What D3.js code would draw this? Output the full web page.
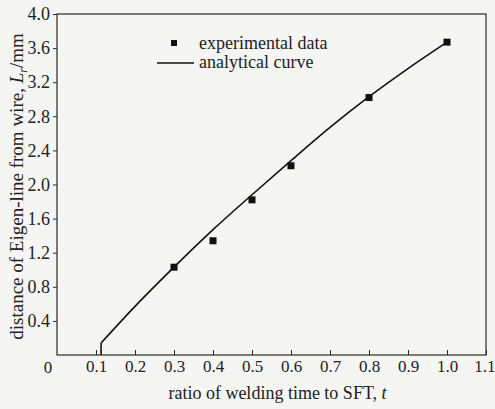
<!DOCTYPE html>
<html>
<head>
<meta charset="utf-8">
<script src="https://cdn.jsdelivr.net/npm/d3@7"></script>
<style>
  body { margin: 0; background: #f5f5f4; }
  svg { display: block; }
  svg text { font-family: "Liberation Serif", "DejaVu Serif", serif; fill: #222; }
  .axis path, .axis line { stroke: #2a2a2a; }
  .axis text { font-size: 18px; }
  .xaxis text { font-size: 17px; }
</style>
</head>
<body>
<div id="chart"></div>
<script>
const width = 495
const height = 409
const margin = {top: 14, right: 9, bottom: 54, left: 57}
const netWidth = width - margin.left - margin.right
const netHeight = height - margin.top - margin.bottom

// Data
const expT = [0.3, 0.4, 0.5, 0.6, 0.8, 1.0]
const expL = [1.03, 1.34, 1.82, 2.22, 3.02, 3.67]
const curveT = [0.113, 0.2, 0.3, 0.4, 0.5, 0.6, 0.7, 0.8, 0.9, 1.0]
const curveL = [0.14, 0.57, 1.03, 1.47, 1.88, 2.28, 2.67, 3.03, 3.36, 3.67]
const xTicks = [0.1, 0.2, 0.3, 0.4, 0.5, 0.6, 0.7, 0.8, 0.9, 1.0, 1.1]
const yTicks = [0.4, 0.8, 1.2, 1.6, 2.0, 2.4, 2.8, 3.2, 3.6, 4.0]

const svg = d3.select("div#chart").append("svg").attr("width", width).attr("height", height)
const g = svg.append("g").attr("transform", `translate(${margin.left}, ${margin.top})`)

const x = d3.scaleLinear().domain([0, 1.1]).range([0, netWidth])
const y = d3.scaleLinear().domain([0, 4.0]).range([netHeight, 0])

// Frame
g.append("rect")
    .attr("width", netWidth).attr("height", netHeight)
    .attr("fill", "none").attr("stroke", "#2a2a2a").attr("stroke-width", 1.2)

// Axes
const xAxis = d3.axisBottom(x).tickValues(xTicks).tickFormat(d3.format(".1f")).tickSizeInner(-5).tickSizeOuter(0).tickPadding(5)
const yAxis = d3.axisLeft(y).tickValues(yTicks).tickFormat(d3.format(".1f")).tickSizeInner(4).tickSizeOuter(0).tickPadding(3)
const xAxisGroup = g.append("g").attr("class", "axis xaxis").attr("transform", `translate(0, ${netHeight})`).call(xAxis)
g.append("g").attr("class", "axis").call(yAxis)
g.selectAll(".axis .domain").remove()
g.selectAll(".axis").attr("font-family", null)
// keep the last label inside the window
xAxisGroup.selectAll(".tick text").filter(d => d === 1.1).attr("text-anchor", "end").attr("x", 9)

// origin label
g.append("text").attr("x", -9).attr("y", netHeight + 18)
    .attr("text-anchor", "middle").attr("font-size", 17).text("0")

// Analytical curve (with the drop to the axis at its start)
const line = d3.line().x(d => x(d[0])).y(d => y(d[1]))
g.append("path")
    .attr("d", line([[curveT[0], 0], [curveT[0], curveL[0]]]))
    .attr("fill", "none").attr("stroke", "#111").attr("stroke-width", 1.6)
g.append("path")
    .attr("d", line.curve(d3.curveMonotoneX)(curveT.map((t, i) => [t, curveL[i]])))
    .attr("fill", "none").attr("stroke", "#111").attr("stroke-width", 1.6)

// Experimental points
const sq = 7
g.selectAll("rect.pt").data(expT).enter().append("rect")
    .attr("class", "pt")
    .attr("x", (d, i) => x(d) - sq / 2)
    .attr("y", (d, i) => y(expL[i]) - sq / 2)
    .attr("width", sq).attr("height", sq)
    .attr("fill", "#111")

// Legend
const legend = svg.append("g").attr("font-size", 18)
legend.append("rect").attr("x", 171).attr("y", 40).attr("width", 6).attr("height", 6).attr("fill", "#111")
legend.append("text").attr("x", 199).attr("y", 49).text("experimental data")
legend.append("line").attr("x1", 157).attr("x2", 194).attr("y1", 63).attr("y2", 63)
    .attr("stroke", "#111").attr("stroke-width", 1.6)
legend.append("text").attr("x", 199).attr("y", 68).text("analytical curve")

// Axis titles
const xTitle = svg.append("text").attr("x", margin.left + netWidth / 2 + 6).attr("y", 399)
    .attr("text-anchor", "middle").attr("font-size", 18)
xTitle.append("tspan").text("ratio of welding time to SFT, ")
xTitle.append("tspan").attr("font-style", "italic").text("t")

const yTitle = svg.append("text")
    .attr("transform", `translate(23, ${margin.top + netHeight / 2 + 2}) rotate(-90)`)
    .attr("text-anchor", "middle").attr("font-size", 19)
yTitle.append("tspan").text("distance of Eigen-line from wire, ")
yTitle.append("tspan").attr("font-style", "italic").text("L")
yTitle.append("tspan").attr("font-style", "italic").attr("font-size", 12).attr("dy", 4).text("r")
yTitle.append("tspan").attr("dy", -4).text("/mm")
</script>
</body>
</html>
